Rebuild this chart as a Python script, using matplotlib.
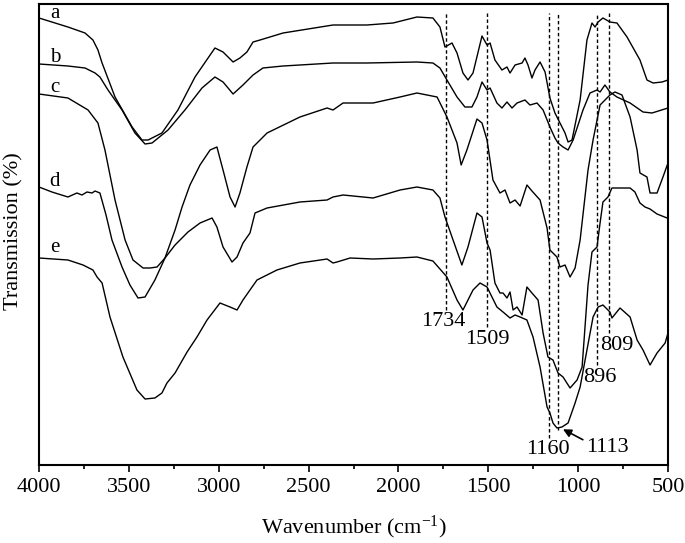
import matplotlib
matplotlib.use("Agg")
import matplotlib.pyplot as plt
from matplotlib.ticker import MultipleLocator

# FTIR spectra a-e (wavenumber in cm-1, transmission in arbitrary offset units)
wn_a = [4000, 3839, 3744, 3700, 3672, 3649, 3577, 3482, 3427, 3393, 3316, 3227, 3132, 3021, 2976,
        2920, 2882, 2843, 2809, 2770, 2642, 2364, 2175, 2030, 1897, 1808, 1769, 1741, 1702, 1674,
        1641, 1613, 1585, 1535, 1507, 1490, 1463, 1424, 1396, 1379, 1351, 1312, 1296, 1279, 1257,
        1240, 1212, 1184, 1157, 1129, 1101, 1073, 1056, 1034, 989, 951, 923, 906, 889, 862, 823,
        784, 728, 656, 617, 583, 533, 500]
t_a = [447, 438, 432, 425, 415, 402, 368, 338, 325, 325, 332, 355, 388, 417, 413,
       403, 407, 413, 423, 425, 432, 440, 440, 442, 448, 447, 438, 418, 422, 412,
       392, 385, 392, 429, 420, 422, 405, 395, 398, 392, 400, 402, 407, 400, 387,
       395, 403, 393, 367, 352, 342, 332, 323, 325, 365, 425, 442, 438, 443, 447, 443,
       442, 428, 405, 385, 382, 383, 385]

wn_b = [4000, 3839, 3744, 3688, 3661, 3616, 3538, 3466, 3410, 3371, 3282, 3188, 3093, 3021, 2976,
        2920, 2865, 2809, 2754, 2642, 2548, 2364, 2175, 1897, 1808, 1769, 1730, 1674, 1630, 1591,
        1563, 1535, 1507, 1490, 1452, 1424, 1396, 1368, 1340, 1296, 1268, 1229, 1195, 1157, 1129,
        1112, 1084, 1056, 1028, 973, 934, 895, 878, 851, 823, 784, 711, 639, 589, 500]
t_b = [401, 399, 397, 392, 388, 375, 355, 332, 321, 322, 335, 355, 377, 388, 383,
       371, 380, 390, 397, 399, 400, 402, 402, 403, 402, 397, 385, 368, 358, 358,
       368, 383, 375, 377, 362, 357, 363, 357, 362, 365, 360, 362, 355, 338, 327,
       322, 318, 315, 325, 355, 372, 375, 373, 380, 373, 368, 362, 353, 352, 357]

wn_c = [4000, 3839, 3727, 3672, 3633, 3577, 3521, 3477, 3421, 3382, 3343, 3299, 3243, 3204, 3160,
        3104, 3048, 3010, 2976, 2937, 2909, 2882, 2843, 2809, 2731, 2548, 2397, 2364, 2308, 2141,
        1991, 1897, 1785, 1730, 1674, 1651, 1619, 1563, 1535, 1507, 1474, 1435, 1407, 1379, 1351,
        1323, 1285, 1257, 1212, 1173, 1157, 1118, 1101, 1073, 1045, 1017, 989, 967, 945, 917,
        878, 823, 795, 756, 711, 672, 656, 617, 600, 561, 528, 500]
t_c = [371, 367, 355, 342, 315, 265, 225, 205, 197, 197, 198, 207, 235, 258, 280,
       300, 315, 318, 295, 268, 258, 272, 298, 318, 332, 348, 357, 355, 362, 362,
       368, 372, 368, 348, 322, 300, 315, 346, 342, 325, 285, 272, 275, 262, 265,
       259, 280, 274, 265, 237, 215, 208, 198, 200, 188, 197, 225, 260, 295, 325,
       360, 370, 373, 370, 348, 315, 292, 288, 272, 272, 288, 302]

wn_d = [4000, 3928, 3839, 3789, 3761, 3733, 3705, 3688, 3661, 3627, 3594, 3538, 3494, 3449, 3410,
        3355, 3299, 3243, 3171, 3104, 3037, 3010, 2976, 2926, 2898, 2865, 2826, 2798, 2731, 2548,
        2397, 2364, 2308, 2141, 1991, 1897, 1808, 1769, 1741, 1696, 1647, 1613, 1563, 1535, 1507,
        1490, 1463, 1435, 1418, 1396, 1379, 1362, 1340, 1312, 1285, 1257, 1223, 1195, 1168, 1140,
        1112, 1084, 1045, 1006, 978, 967, 945, 923, 895, 878, 862, 834, 812, 711, 684,
        656, 628, 600, 561, 505]
t_d = [278, 273, 268, 272, 270, 273, 272, 274, 272, 250, 225, 198, 180, 167, 168,
       185, 207, 220, 233, 242, 247, 238, 218, 203, 208, 222, 232, 252, 257, 263,
       265, 268, 270, 267, 275, 278, 275, 267, 248, 225, 200, 218, 252, 248, 222,
       215, 182, 172, 172, 167, 173, 155, 158, 150, 178, 172, 165, 132, 108, 105,
       92, 88, 77, 85, 98, 125, 180, 213, 218, 242, 263, 268, 277, 277, 273,
       262, 258, 256, 251, 247]

wn_e = [4000, 3839, 3755, 3700, 3677, 3649, 3605, 3533, 3455, 3410, 3355, 3316, 3288, 3243, 3176,
        3121, 3065, 2993, 2937, 2898, 2865, 2787, 2676, 2548, 2397, 2364, 2342, 2269, 2141, 1991,
        1897, 1808, 1730, 1674, 1641, 1585, 1546, 1507, 1452, 1418, 1379, 1351, 1323, 1285, 1251,
        1212, 1173, 1157, 1140, 1118, 1090, 1056, 1017, 989, 951, 917, 889, 862, 823, 812,
        767, 711, 672, 639, 600, 561, 516, 500]
t_e = [207, 205, 200, 195, 188, 182, 148, 108, 75, 66, 67, 72, 82, 92, 113,
       128, 145, 162, 158, 155, 165, 185, 195, 202, 206, 202, 203, 207, 206, 207,
       208, 204, 188, 165, 155, 175, 182, 178, 158, 153, 147, 150, 148, 145, 128,
       98, 58, 52, 42, 37, 38, 42, 62, 78, 115, 148, 158, 160, 153, 147,
       157, 148, 125, 115, 100, 112, 122, 132]

# curve letters and where they sit
curve_names = ["a", "b", "c", "d", "e"]
name_y = [452, 408, 378, 283, 218]

# dashed marker lines: position, bottom end
mark_wn = [1734, 1509, 1160, 1113, 896, 828]
mark_low = [155, 138, 27, 35, 100, 132]
mark_top = 452

# peak labels
peak_text = ["1734", "1509", "809", "896", "1160", "1113"]
peak_wn = [1752, 1507, 784, 878, 1168, 839]
peak_t = [143, 125, 120, 88, 15, 17]

plt.rcParams['font.family'] = ['Liberation Serif', 'DejaVu Serif']
plt.rcParams['mathtext.default'] = 'regular'

fig = plt.figure(figsize=(6.85, 5.43), dpi=100)
ax = fig.add_axes([39 / 685, 1 - 465 / 543, 629 / 685, 461 / 543])

for wn, t in [(wn_a, t_a), (wn_b, t_b), (wn_c, t_c), (wn_d, t_d), (wn_e, t_e)]:
    ax.plot(wn, t, color='black', lw=1.0)

ax.vlines(mark_wn, mark_low, mark_top, colors='black', lw=1.0, linestyles=(0, (2.5, 1.8)))

for name, y in zip(curve_names, name_y):
    ax.text(3911, y, name, ha='center', va='center', fontsize=15)

for txt, w, t in zip(peak_text, peak_wn, peak_t):
    ax.text(w, t, txt, ha='center', va='center', fontsize=16)

ax.annotate('', xy=(1098, 37), xytext=(960, 24),
            arrowprops=dict(arrowstyle='-|>', color='black', lw=1.2, mutation_scale=12))

ax.set_xlim(4000, 500)
ax.set_ylim(0, 461)
ax.xaxis.set_major_locator(MultipleLocator(500))
ax.xaxis.set_minor_locator(MultipleLocator(250))
ax.tick_params(axis='x', which='major', direction='out', length=5, width=1.2, labelsize=16, pad=4)
ax.tick_params(axis='x', which='minor', direction='out', length=3, width=1.2)
ax.set_yticks([])
for s in ax.spines.values():
    s.set_linewidth(1.5)

fig.text(14 / 685, 1 - 231 / 543, 'Transmission (%)', rotation=90, ha='center', va='center', fontsize=16)
fig.text(353.5 / 685, 1 - 527 / 543, 'Wavenumber (cm$^{-1}$)', ha='center', va='center', fontsize=16)

fig.savefig('out.png', dpi=100)
